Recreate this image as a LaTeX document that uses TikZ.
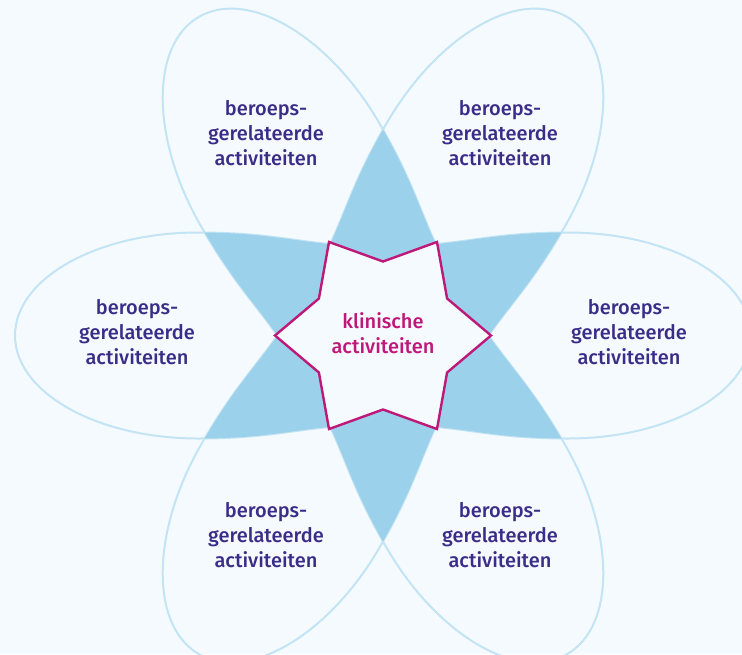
\documentclass[tikz,border=0pt]{standalone}
\usepackage{fontspec}
\setmainfont{Fira Sans}[BoldFont={Fira Sans Medium}]
\usetikzlibrary{calc}

\definecolor{paper}{RGB}{245,250,254}
\definecolor{petalline}{RGB}{195,228,244}
\definecolor{overlapblue}{RGB}{156,209,235}
\definecolor{corepink}{RGB}{190,24,120}
\definecolor{labelblue}{RGB}{56,46,136}

\begin{document}
\begin{tikzpicture}[
  x=1pt,y=-1pt,
  petal/.style={draw=petalline,line width=2pt},
  petalshape/.style={insert path={
    (368,0) arc[start angle=0,end angle=90,x radius=183,y radius=103]
    .. controls (100,103) and (80,89) .. (0,89)
    .. controls (-80,89) and (-100,103) .. (-185,103)
    arc[start angle=90,end angle=270,x radius=183,y radius=103]
    .. controls (-100,-103) and (-80,-89) .. (0,-89)
    .. controls (80,-89) and (100,-103) .. (185,-103)
    arc[start angle=270,end angle=360,x radius=183,y radius=103] -- cycle}},
  core/.style={draw=corepink,fill=paper,line width=2.4pt,line join=miter},
  petallabel/.style={font=\bfseries\fontsize{20}{25}\selectfont,text=labelblue,align=center},
  corelabel/.style={font=\bfseries\fontsize{20}{25}\selectfont,text=corepink,align=center},
]
  % Canvas
  \fill[paper] (0,0) rectangle (742,654);
  \useasboundingbox (0,0) rectangle (742,654);
  \coordinate (c) at (383,335.5);

  % Petals
  \draw[petal,shift={(c)},petalshape];
  \draw[petal,shift={(c)},rotate=60,petalshape];
  \draw[petal,shift={(c)},rotate=-60,petalshape];

  % Overlaps
  \begin{scope}
    \clip[shift={(c)},petalshape];
    \fill[overlapblue,shift={(c)},rotate=60,petalshape];
    \fill[overlapblue,shift={(c)},rotate=-60,petalshape];
  \end{scope}
  \begin{scope}
    \clip[shift={(c)},rotate=60,petalshape];
    \fill[overlapblue,shift={(c)},rotate=-60,petalshape];
  \end{scope}

  % Core star
  \foreach \i in {0,...,5} {
    \coordinate (tip\i) at ($(c)+(\i*60:108)$);
    \coordinate (notch\i) at ($(c)+(\i*60+30:74)$);
  }
  \draw[core] (tip0) -- (notch0) -- (tip1) -- (notch1) -- (tip2) -- (notch2)
    -- (tip3) -- (notch3) -- (tip4) -- (notch4) -- (tip5) -- (notch5) -- cycle;

  % Labels
  \node[corelabel] (clinical) at (383,333) {klinische\\activiteiten};
  \node[petallabel] (topleft) at (266,133.5) {beroeps-\\gerelateerde\\activiteiten};
  \node[petallabel] (topright) at (500,133.5) {beroeps-\\gerelateerde\\activiteiten};
  \node[petallabel] (left) at (137,332) {beroeps-\\gerelateerde\\activiteiten};
  \node[petallabel] (right) at (629,332) {beroeps-\\gerelateerde\\activiteiten};
  \node[petallabel] (bottomleft) at (266,535) {beroeps-\\gerelateerde\\activiteiten};
  \node[petallabel] (bottomright) at (500,535) {beroeps-\\gerelateerde\\activiteiten};
\end{tikzpicture}
\end{document}
